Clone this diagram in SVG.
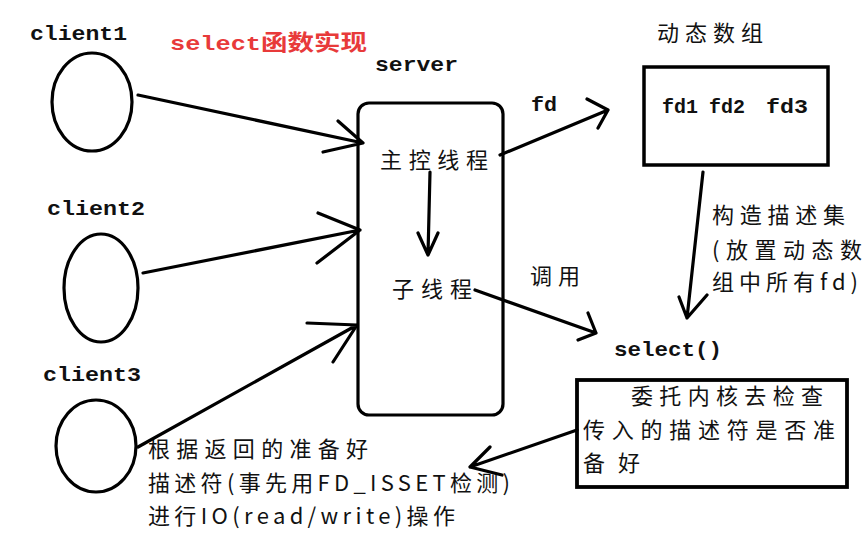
<svg xmlns="http://www.w3.org/2000/svg" width="868" height="546" viewBox="0 0 868 546">
<style>
.ln{fill:none;stroke:#000;stroke-width:3.2;stroke-linecap:round;stroke-linejoin:round}
.en{font-family:"Liberation Mono","DejaVu Sans Mono",monospace;font-weight:bold;font-size:21px;fill:#111}
.cn{font-family:"Noto Sans CJK SC","Liberation Sans",sans-serif;font-size:22px;fill:#111}
.red{fill:#e83a3a}
</style>
<rect width="868" height="546" fill="#fff"/>
<text x="170" y="50" class="en red" textLength="197" lengthAdjust="spacingAndGlyphs">select<tspan style="font-family:'Noto Sans CJK SC',sans-serif;font-size:22px">函数实现</tspan></text>
<g id="client1">
<ellipse cx="92" cy="102" rx="40" ry="49" class="ln"/>
<text x="30" y="40" class="en" textLength="97" lengthAdjust="spacingAndGlyphs">client1</text>
</g>
<g id="client2">
<ellipse cx="101" cy="288" rx="37" ry="54" class="ln"/>
<text x="47" y="215" class="en" textLength="98" lengthAdjust="spacingAndGlyphs">client2</text>
</g>
<g id="client3">
<ellipse cx="96" cy="446" rx="40" ry="46" class="ln"/>
<text x="43" y="381" class="en" textLength="98" lengthAdjust="spacingAndGlyphs">client3</text>
</g>
<g id="server">
<text x="375" y="71" class="en" textLength="83" lengthAdjust="spacingAndGlyphs">server</text>
<rect x="358" y="103" width="145" height="312" rx="11" class="ln"/>
<text x="380" y="168" class="cn" textLength="108" lengthAdjust="spacing">主控线程</text>
<text x="392" y="297" class="cn" textLength="80" lengthAdjust="spacing">子线程</text>
</g>
<g id="array">
<text x="657" y="41" class="cn" textLength="106" lengthAdjust="spacing">动态数组</text>
<rect x="644" y="67" width="184" height="98" fill="none" stroke="#000" stroke-width="3.5"/>
<text x="662" y="113" class="en" textLength="36" lengthAdjust="spacingAndGlyphs">fd1</text>
<text x="709" y="113" class="en" textLength="36" lengthAdjust="spacingAndGlyphs">fd2</text>
<text x="766" y="113" class="en" textLength="42" lengthAdjust="spacingAndGlyphs">fd3</text>
</g>
<g id="select">
<text x="614" y="356" class="en" textLength="108" lengthAdjust="spacingAndGlyphs">select()</text>
</g>
<g id="kernel">
<rect x="577" y="380" width="270" height="107" fill="none" stroke="#000" stroke-width="3.8"/>
<text x="631" y="404" class="cn" textLength="192" lengthAdjust="spacing">委托内核去检查</text>
<text x="583" y="438" class="cn" textLength="252" lengthAdjust="spacing">传入的描述符是否准</text>
<text x="583" y="471" class="cn" textLength="57" lengthAdjust="spacing">备好</text>
</g>
<g id="io-note">
<text x="148" y="457" class="cn" textLength="220" lengthAdjust="spacing">根据返回的准备好</text>
<text x="148" y="491" class="cn" textLength="362" lengthAdjust="spacing">描述符(事先用FD_ISSET检测)</text>
<text x="148" y="524" class="cn" textLength="307" lengthAdjust="spacing">进行IO(read/write)操作</text>
</g>
<g id="construct-note">
<text x="712" y="223" class="cn" textLength="133" lengthAdjust="spacing">构造描述集</text>
<text x="712" y="258" class="cn" textLength="150" lengthAdjust="spacing">(放置动态数</text>
<text x="712" y="290" class="cn" textLength="146" lengthAdjust="spacing">组中所有fd)</text>
</g>
<g id="connectors">
<path class="ln" d="M138 95 L363 143 M338 121 L363 143 L323 152"/>
<path class="ln" d="M143 273 L360 230 M318 213 L360 230 L317 263"/>
<path class="ln" d="M138 447 L357 325 M307 323 L357 325 L333 362"/>
<path class="ln" d="M430 172 L428 255 M418 233 L428 255 L438 233"/>
<path class="ln" d="M500 155 L608 110 M587 99 L608 110 L598 128"/>
<path class="ln" d="M703 172 L687 318 M679 297 L687 318 L707 295"/>
<path class="ln" d="M475 290 L596 333 M588 313 L596 333 L578 340"/>
<path class="ln" d="M577 430 L470 467 M490 447 L470 467 L502 475"/>
<text x="531" y="111" class="en" textLength="26" lengthAdjust="spacingAndGlyphs">fd</text>
<text x="530" y="284" class="cn" textLength="50" lengthAdjust="spacing">调用</text>
</g>
</svg>
